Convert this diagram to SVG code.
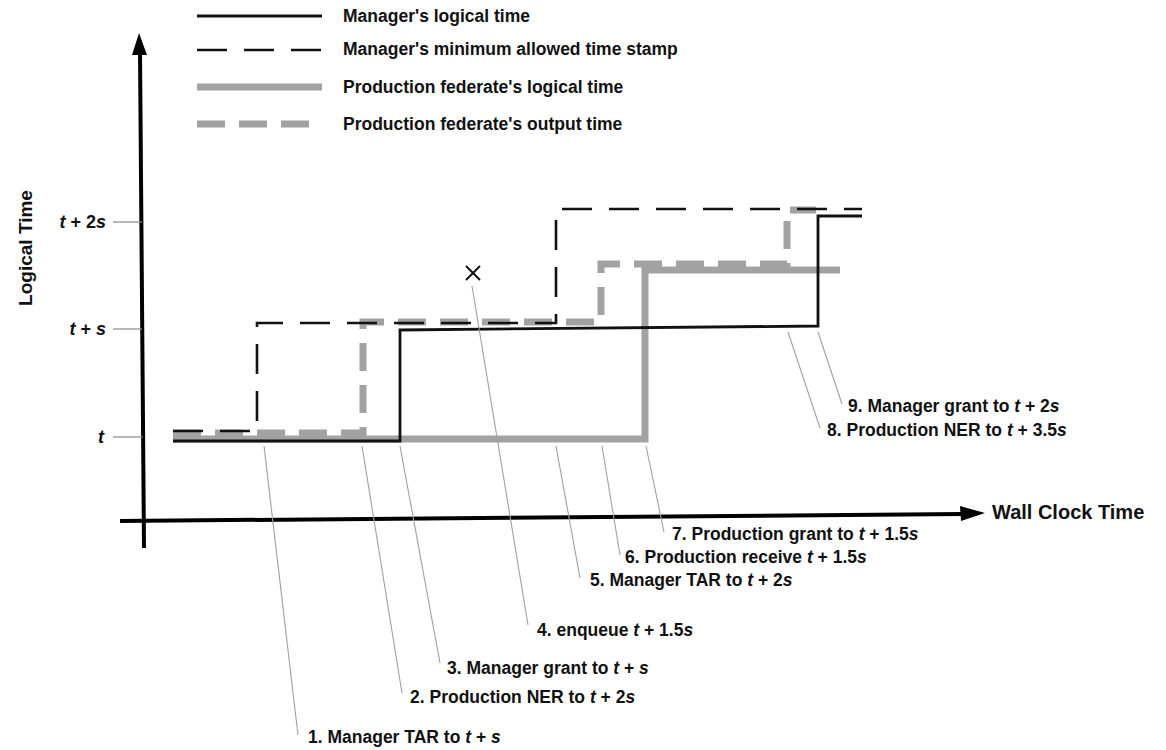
<svg xmlns="http://www.w3.org/2000/svg" width="1166" height="750" viewBox="0 0 1166 750">
<defs>
<style>
text{font-family:"Liberation Sans",Arial,sans-serif;font-weight:bold;fill:#111}
.lg{font-size:17.5px}
.lb{font-size:17.5px}
.tk{font-size:18px}
.i{font-style:italic}
.mgr{fill:none;stroke:#111;stroke-width:2.8;stroke-linejoin:miter}
.mgrd{fill:none;stroke:#111;stroke-width:2.6;stroke-dasharray:30 17}
.prod{fill:none;stroke:#a2a2a2;stroke-width:7}
.prodd{fill:none;stroke:#a2a2a2;stroke-width:7;stroke-dasharray:28 14}
.ax{fill:none;stroke:#000;stroke-width:4}
.ld{fill:none;stroke:#a0a0a0;stroke-width:1.1}
.tick{stroke:#888;stroke-width:1.2}
</style>
</defs>
<rect width="1166" height="750" fill="#fff"/>

<g id="legend">
<line x1="197" y1="16" x2="322" y2="16" class="mgr" stroke-width="2"/>
<text class="lg" x="343" y="22">Manager's logical time</text>
<line x1="197" y1="50" x2="322" y2="50" class="mgrd" stroke-width="2.2" stroke-dasharray="28 16"/>
<text class="lg" x="343" y="55">Manager's minimum allowed time stamp</text>
<line x1="197" y1="87" x2="322" y2="87" class="prod" stroke-width="6"/>
<text class="lg" x="343" y="93">Production federate's logical time</text>
<line x1="197" y1="124" x2="322" y2="124" class="prodd" stroke-width="6"/>
<text class="lg" x="343" y="130">Production federate's output time</text>
</g>

<g id="axes">
<line x1="140" y1="52" x2="144" y2="548" class="ax"/>
<polygon points="139,33 147,55 132,55" fill="#000"/>
<line x1="120" y1="521" x2="962" y2="514" class="ax"/>
<polygon points="985,513 960,506 961,521" fill="#000"/>
<text x="32" y="248" font-size="19" text-anchor="middle" transform="rotate(-90 32 248)">Logical Time</text>
<text x="992" y="519" font-size="20">Wall Clock Time</text>
<line x1="113" y1="222" x2="142" y2="222" class="tick"/>
<line x1="113" y1="329" x2="142" y2="329" class="tick"/>
<line x1="113" y1="437" x2="143" y2="437" class="tick"/>
<text class="tk" x="106" y="228" text-anchor="end"><tspan class="i">t</tspan> + 2<tspan class="i">s</tspan></text>
<text class="tk" x="106" y="335" text-anchor="end"><tspan class="i">t</tspan> + <tspan class="i">s</tspan></text>
<text class="tk" x="104" y="443" text-anchor="end"><tspan class="i">t</tspan></text>
</g>

<g id="production-logical">
<polyline class="prod" points="173,439 645,439 645,270 840,270"/>
</g>
<g id="production-output">
<polyline class="prodd" points="173,433 363,433 363,322 601,322 601,264 787,264 787,210 816,210"/>
</g>
<g id="manager-min">
<polyline class="mgrd" points="173,431 257,431 257,323 556,323 556,209 862,209"/>
</g>
<g id="manager-logical">
<polyline class="mgr" points="173,441 400,441 400,330 818,326 818,216 862,216"/>
</g>
<g id="enqueue-mark">
<line x1="466" y1="266" x2="480" y2="280" stroke="#111" stroke-width="2"/>
<line x1="480" y1="266" x2="466" y2="280" stroke="#111" stroke-width="2"/>
</g>

<g id="connectors">
<line class="ld" x1="264" y1="446" x2="298" y2="735"/>
<line class="ld" x1="362" y1="446" x2="402" y2="693"/>
<line class="ld" x1="400" y1="446" x2="440" y2="663"/>
<line class="ld" x1="472" y1="286" x2="528" y2="625"/>
<line class="ld" x1="556" y1="446" x2="580" y2="578"/>
<line class="ld" x1="602" y1="446" x2="620" y2="555"/>
<line class="ld" x1="646" y1="446" x2="664" y2="532"/>
<line class="ld" x1="788" y1="332" x2="820" y2="428"/>
<line class="ld" x1="818" y1="332" x2="842" y2="404"/>
</g>

<g id="label-1"><text class="lb" x="308" y="743">1. Manager TAR to  <tspan class="i">t</tspan> + <tspan class="i">s</tspan></text></g>
<g id="label-2"><text class="lb" x="410" y="703">2. Production NER to <tspan class="i">t</tspan> + 2<tspan class="i">s</tspan></text></g>
<g id="label-3"><text class="lb" x="447" y="674">3. Manager grant to  <tspan class="i">t</tspan> + <tspan class="i">s</tspan></text></g>
<g id="label-4"><text class="lb" x="537" y="636">4. enqueue <tspan class="i">t</tspan> + 1.5<tspan class="i">s</tspan></text></g>
<g id="label-5"><text class="lb" x="590" y="586">5. Manager TAR to  <tspan class="i">t</tspan> + 2<tspan class="i">s</tspan></text></g>
<g id="label-6"><text class="lb" x="625" y="563">6. Production receive  <tspan class="i">t</tspan> + 1.5<tspan class="i">s</tspan></text></g>
<g id="label-7"><text class="lb" x="672" y="540">7. Production grant to  <tspan class="i">t</tspan> + 1.5<tspan class="i">s</tspan></text></g>
<g id="label-8"><text class="lb" x="827" y="436">8. Production NER to <tspan class="i">t</tspan> + 3.5<tspan class="i">s</tspan></text></g>
<g id="label-9"><text class="lb" x="848" y="412">9. Manager grant to <tspan class="i">t</tspan> + 2<tspan class="i">s</tspan></text></g>
</svg>
